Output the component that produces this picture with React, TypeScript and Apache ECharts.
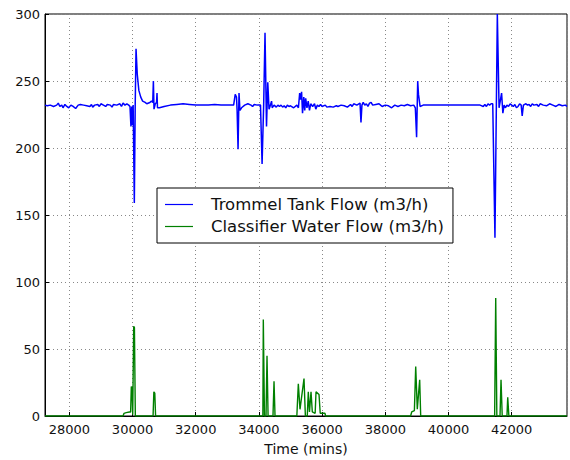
import React, { useEffect, useRef } from "react";
import * as echarts from "echarts";

const xLabelName = "Time (mins)";
const seriesNames = ["Trommel Tank Flow (m3/h)", "Classifier Water Flow (m3/h)"];
const xMin = 27230;
const xMax = 43750;
const yTicks = [0, 50, 100, 150, 200, 250, 300];

const trommelTime = [
  27230, 27300, 27400, 27500, 27600, 27650, 27700, 27760, 27800, 27860, 27920, 27980, 28050, 28120, 28200, 28280,
  28350, 28450, 28550, 28650, 28700, 28740, 28800, 28900, 28950, 29000, 29080, 29150, 29200, 29300, 29350, 29400,
  29500, 29600, 29650, 29700, 29760, 29820, 29880, 29920, 29950, 29975, 30000, 30020, 30057, 30085, 30111, 30150,
  30200, 30260, 30320, 30400, 30450, 30550, 30600, 30640, 30660, 30680, 30720, 30760, 30775, 30790, 30850, 31000,
  31200, 31400, 31600, 31800, 32000, 32200, 32400, 32600, 32800, 33000, 33200, 33250, 33290, 33310, 33340, 33370,
  33400, 33450, 33550, 33650, 33750, 33800, 33850, 33950, 34050, 34100, 34150, 34193, 34240, 34280, 34320, 34350,
  34400, 34420, 34480, 34550, 34600, 34650, 34700, 34750, 34800, 34850, 34900, 34950, 35000, 35100, 35200, 35250,
  35290, 35320, 35350, 35380, 35420, 35450, 35480, 35520, 35560, 35600, 35640, 35700, 35760, 35800, 35850, 35900,
  35950, 36000, 36100, 36150, 36250, 36350, 36450, 36500, 36600, 36700, 36800, 36900, 36950, 37000, 37100, 37200,
  37230, 37260, 37300, 37350, 37400, 37450, 37500, 37550, 37600, 37700, 37800, 37850, 37900, 37950, 38000, 38100,
  38200, 38300, 38400, 38500, 38600, 38700, 38800, 38900, 38950, 38990, 39025, 39050, 39100, 39200, 39400, 39600,
  39800, 40000, 40200, 40500, 40800, 41000, 41100, 41150, 41200, 41250, 41300, 41350, 41400, 41470, 41545, 41600,
  41680, 41720, 41760, 41800, 41850, 41900, 41950, 42000, 42050, 42100, 42150, 42200, 42250, 42300, 42332, 42370,
  42450, 42500, 42550, 42600, 42650, 42700, 42800, 42850, 42900, 43000, 43100, 43200, 43300, 43400, 43500, 43600,
  43700, 43750,
];
const trommelFlow = [
  232, 231.5, 232, 231, 232, 233.5, 231, 232, 230, 232.5, 231, 230, 232, 231, 229.5, 232,
  232.5, 232, 231.5, 231, 232.5, 230.5, 232, 232.5, 231, 233, 232, 231, 232.5, 232, 230.5, 232.5,
  232, 233, 231, 233.5, 232, 233, 232, 231, 216, 231, 217, 232, 159, 232, 274, 255,
  243, 238, 235, 234, 233, 234, 235, 234, 250, 229, 233, 234, 241, 230, 230, 231,
  232, 232.5, 233, 232.5, 232, 232, 232, 232.5, 232, 232, 232, 240, 238, 228, 199, 241,
  228, 230, 232, 233, 232, 231, 232.5, 232, 232, 188, 232, 286, 216, 249, 229, 231,
  235, 230, 232, 230.5, 232, 231, 232, 230.5, 231.5, 230, 232, 231, 231.5, 230, 232, 230,
  241, 236, 242, 226, 238, 228, 237, 230, 235, 228, 233, 231, 233, 229, 232, 231,
  232.5, 231, 232, 230.5, 231, 230.5, 231.5, 231, 232, 231.5, 230.5, 232.5, 231, 233, 232, 233.5,
  219, 232, 234, 232, 233, 231, 233.5, 234, 232, 232.5, 233, 232, 231, 231.5, 232, 231.5,
  230, 232, 231, 232, 231.5, 232.5, 231.5, 232, 230, 208, 250, 240, 231, 232, 232, 232,
  232, 232, 232, 232, 232, 232, 231, 232.5, 231, 233, 232, 233, 233, 133, 300, 230,
  241, 226, 232, 230, 232, 231, 233, 232, 231, 232.5, 230, 231, 233, 232, 224, 232,
  233, 232, 232.5, 231, 233, 232, 232.5, 231, 233, 232, 231.5, 233, 232, 231, 232.5, 231.5,
  232, 231,
];

const classifierTime = [
  27230, 29700, 29731, 29800, 29899, 29940, 29962, 29985, 30006, 30037, 30060, 30089, 30650, 30675, 30705, 30730,
  34100, 34125, 34139, 34175, 34225, 34256, 34290, 34445, 34478, 34510, 35200, 35247, 35300, 35427, 35470, 35530,
  35563, 35600, 35649, 35690, 35780, 35807, 35902, 35940, 36092, 36110, 38800, 38835, 38920, 38962, 39012, 39088,
  39120, 41460, 41494, 41530, 41630, 41662, 41700, 41850, 41874, 41910, 43750,
];
const classifierFlow = [
  0, 0, 2, 2.5, 3, 3, 22, 21, 1, 67, 66, 0, 0, 18, 17, 0,
  0, 0, 72, 0, 0, 45, 0, 0, 26, 0, 0, 24, 5, 28, 0, 0,
  18, 3, 18, 3, 2, 18, 16, 2, 2, 0, 0, 3, 4, 37, 5, 27,
  0, 0, 88, 0, 0, 27, 0, 0, 14, 0, 0,
];

const FONT = "DejaVu Sans";

export default function App() {
  const ref = useRef<HTMLDivElement>(null);
  useEffect(() => {
    if (!ref.current) return;
    const chart = echarts.init(ref.current, null, { renderer: "svg" });
    const trommel = trommelTime.map((t, i) => [t, trommelFlow[i]]);
    const classifier = classifierTime.map((t, i) => [t, classifierFlow[i]]);
    chart.setOption({
      animation: false,
      backgroundColor: "#fff",
      textStyle: { fontFamily: FONT },
      grid: {
        left: 45,
        right: 3,
        top: 14,
        bottom: 44,
        show: true,
        borderColor: "#000",
        borderWidth: 1,
        backgroundColor: "transparent",
        containLabel: false,
        outerBoundsMode: "none",
      },
      legend: {
        orient: "vertical",
        left: 157,
        top: 188,
        padding: [8, 9, 8, 8],
        itemGap: 5,
        itemWidth: 28,
        itemHeight: 16,
        backgroundColor: "#fff",
        borderColor: "#000",
        borderWidth: 1,
        borderRadius: 0,
        textStyle: { fontFamily: FONT, fontSize: 16.5, color: "#111", padding: [0, 0, 0, 13] },
        data: seriesNames.map((n) => ({ name: n, icon: "path://M0,0 L28,0 L28,1.2 L0,1.2 Z" })),
      },
      xAxis: {
        type: "value",
        min: xMin,
        max: xMax,
        splitNumber: 8,
        minInterval: 2000,
        maxInterval: 2000,
        name: xLabelName,
        nameLocation: "middle",
        nameGap: 26,
        nameTextStyle: { fontFamily: FONT, fontSize: 14, color: "#111" },
        axisLine: { show: true, lineStyle: { color: "#000", width: 1 } },
        axisTick: { show: true, inside: true, length: 4, lineStyle: { color: "#000" } },
        axisLabel: {
          fontFamily: FONT,
          fontSize: 13,
          color: "#111",
          margin: 7,
          showMinLabel: false,
          showMaxLabel: false,
          formatter: (v: number) => String(v),
        },
        splitLine: { show: true, lineStyle: { color: "#888", type: [1, 3], width: 1 } },
      },
      yAxis: {
        type: "value",
        min: yTicks[0],
        max: yTicks[yTicks.length - 1],
        interval: 50,
        axisLine: { show: true, lineStyle: { color: "#000", width: 1 } },
        axisTick: { show: true, inside: true, length: 4, lineStyle: { color: "#000" } },
        axisLabel: { fontFamily: FONT, fontSize: 13, color: "#111", margin: 5 },
        splitLine: { show: true, lineStyle: { color: "#888", type: [1, 3], width: 1 } },
      },
      series: [
        {
          name: seriesNames[0],
          type: "line",
          data: trommel,
          symbol: "none",
          clip: true,
          lineStyle: { color: "#0000ff", width: 1.5 },
          itemStyle: { color: "#0000ff" },
        },
        {
          name: seriesNames[1],
          type: "line",
          data: classifier,
          symbol: "none",
          clip: true,
          lineStyle: { color: "#008000", width: 1.4 },
          itemStyle: { color: "#008000" },
        },
      ],
    });
    return () => chart.dispose();
  }, []);
  return (
    <div
      ref={ref}
      style={{ position: "absolute", left: 0, top: 0, width: 570, height: 460 }}
    />
  );
}
